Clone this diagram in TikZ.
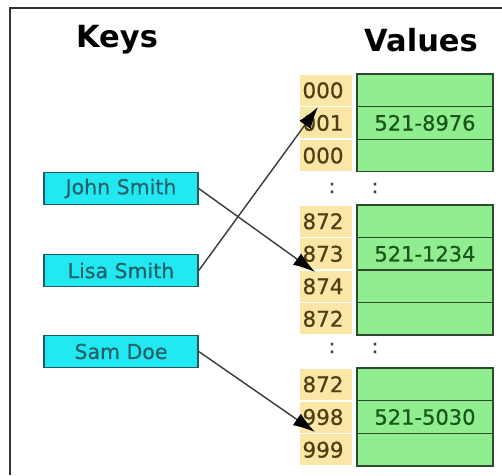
\documentclass[tikz,border=0pt]{standalone}
\usepackage{fontspec}
\setmainfont{DejaVu Sans}
\newfontfamily\semibfont[FakeBold=0.6]{DejaVu Sans}
\usetikzlibrary{arrows.meta}
\definecolor{keyfill}{HTML}{22E8F2}
\definecolor{keydraw}{HTML}{1E5E62}
\definecolor{keytext}{HTML}{22626A}
\definecolor{valfill}{HTML}{90EE90}
\definecolor{valdraw}{HTML}{2E4A2E}
\definecolor{valtext}{HTML}{1A551A}
\definecolor{idxfill}{HTML}{FAE6A6}
\definecolor{idxtext}{HTML}{4E3E14}
\definecolor{dotc}{HTML}{444444}
\definecolor{framec}{HTML}{333333}
\definecolor{arrowc}{HTML}{3A3A3A}
\tikzset{
  keybox/.style={draw=keydraw, line width=1.5pt, fill=keyfill, text=keytext,
    minimum width=154pt, minimum height=32pt, inner sep=0pt, font=\semibfont\fontsize{20.5}{22}\selectfont},
  valbox/.style={draw=valdraw, line width=1.3pt, fill=valfill, text=valtext,
    minimum width=136pt, minimum height=32.6pt, inner sep=0pt, font=\semibfont\fontsize{21}{22}\selectfont},
  idxbox/.style={fill=idxfill, text=idxtext, text width=47pt, align=left, inner xsep=2.5pt, inner ysep=0pt,
    minimum height=31pt, font=\semibfont\fontsize{21.5}{22}\selectfont},
  dotlbl/.style={text=dotc, font=\semibfont\fontsize{20}{22}\selectfont, inner sep=0pt},
  heading/.style={font=\fontsize{30.5}{34}\selectfont\bfseries, text=black, inner sep=0pt},
  ptr/.style={draw=arrowc, line width=1.4pt, -{Latex[length=22pt,width=14pt,black]}},
  framel/.style={draw=framec, line width=2pt}
}
\begin{document}
\begin{tikzpicture}[x=1pt,y=-1pt]
\useasboundingbox (0,0) rectangle (502,475);
\fill[white] (0,0) rectangle (502,475);
\coordinate (fa) at (10,475);
\coordinate (fb) at (10,8);
\coordinate (fc) at (502,8);
\draw[framel] (fa) -- (fb) -- (fc);

\node[heading] (hkeys) at (117,40) {Keys};
\node[heading] (hvals) at (421,40) {Values};

% group 1
\node[valbox] (v1) at (425,90.3) {};
\node[valbox] (v2) at (425,122.9) {521-8976};
\node[valbox] (v3) at (425,155.5) {};
\node[idxbox] (i1) at (326,90.3) {000};
\node[idxbox] (i2) at (326,122.9) {001};
\node[idxbox] (i3) at (326,155.5) {000};

\node[dotlbl] (d1) at (332,188) {:};
\node[dotlbl] (d2) at (375,188) {:};

% group 2
\node[valbox] (v4) at (425,221.3) {};
\node[valbox] (v5) at (425,253.8) {521-1234};
\node[valbox] (v6) at (425,286.3) {};
\node[valbox] (v7) at (425,318.8) {};
\node[idxbox] (i4) at (326,221.3) {872};
\node[idxbox] (i5) at (326,253.8) {873};
\node[idxbox] (i6) at (326,286.3) {874};
\node[idxbox] (i7) at (326,318.8) {872};

\node[dotlbl] (d3) at (332,348) {:};
\node[dotlbl] (d4) at (375,348) {:};

% group 3
\node[valbox] (v8) at (425,384.3) {};
\node[valbox] (v9) at (425,417) {521-5030};
\node[valbox] (v10) at (425,449.7) {};
\node[idxbox] (i8) at (326,384.3) {872};
\node[idxbox] (i9) at (326,417) {998};
\node[idxbox] (i10) at (326,449.7) {999};

% keys
\node[keybox] (john) at (121,188.5) {John Smith};
\node[keybox] (lisa) at (121,270.5) {Lisa Smith};
\node[keybox] (sam) at (121,351.5) {Sam Doe};

\coordinate (t1) at (318,107);
\coordinate (t2) at (315,272);
\coordinate (t3) at (315,432);
\draw[ptr] (lisa.east) -- (t1);
\draw[ptr] (john.east) -- (t2);
\draw[ptr] (sam.east) -- (t3);
\end{tikzpicture}
\end{document}
